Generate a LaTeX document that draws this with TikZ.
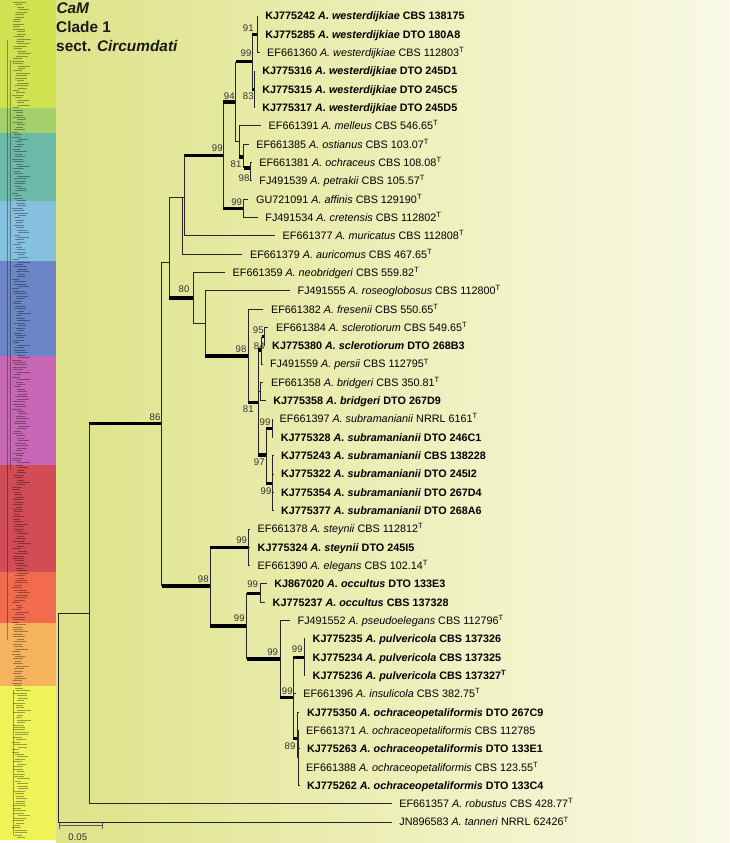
\documentclass[tikz,border=0pt]{standalone}
\usepackage{fontspec}
\setmainfont{Liberation Sans}
\usetikzlibrary{positioning}

\definecolor{bgA}{RGB}{206,212,96}
\definecolor{bgB}{RGB}{224,228,142}
\definecolor{bgC}{RGB}{241,243,200}
\definecolor{bgD}{RGB}{252,252,243}
\pgfdeclarehorizontalshading{bgfade}{100bp}{color(0bp)=(bgA); color(28bp)=(bgB); color(58bp)=(bgC); color(82bp)=(bgD); color(100bp)=(white)}

\definecolor{bandA}{RGB}{207,226,80}
\definecolor{bandB}{RGB}{163,208,107}
\definecolor{bandC}{RGB}{109,185,168}
\definecolor{bandD}{RGB}{133,193,223}
\definecolor{bandE}{RGB}{106,134,198}
\definecolor{bandF}{RGB}{200,103,181}
\definecolor{bandG}{RGB}{210,76,85}
\definecolor{bandH}{RGB}{242,107,79}
\definecolor{bandI}{RGB}{246,179,94}
\definecolor{bandJ}{RGB}{238,243,87}

\tikzset{
  branch/.style={line width=0.9pt, draw=black!85},
  strong/.style={line width=3.2pt, draw=black},
  taxon/.style={anchor=base west, inner sep=0pt, yshift=-3.9pt, font=\fontsize{10.8}{12}\selectfont},
  boot/.style={inner sep=0pt, text=black!80, font=\fontsize{9.6}{10}\selectfont},
  heading/.style={anchor=west, inner sep=0pt, text=black!90, font=\fontsize{15.4}{18}\selectfont\bfseries},
  minirow/.style={line width=0.35pt, draw=black, opacity=0.35},
  scalebar/.style={line width=1.3pt, draw=black!65},
}

% taxon texts
\newcommand{\TT}{\textsuperscript{T}}
\newcommand{\ntax}[3]{#1 \textit{A. #2} #3}
\newcommand{\btax}[3]{\textbf{#1 \textit{A. #2} #3}}
% branches: thin, or with a thick (supported) horizontal part
\newcommand{\branchto}[2]{\draw[branch] (#1) |- (#2);}
\newcommand{\strongto}[2]{\draw[branch] (#1) -- (#1 |- #2); \draw[strong] (#1 |- #2) -- (#2);}
% leaf: name, parent, end x, row, text
\newcommand{\leaf}[5]{%
  \coordinate (#1) at (#3,{16+18.32*(#4-1)});
  \draw[branch] (#2) |- (#1);
  \node[right=7.5pt of #1, taxon] (#1l) {#5};}

\begin{document}
\begin{tikzpicture}[x=1pt, y=-1pt]
  \useasboundingbox (0,0) rectangle (729,843);
  \shade[shading=bgfade] (56,0) rectangle (729,843);

  % thumbnail strip of the whole tree
  \fill[bandA] (0,0) rectangle (56,108);
  \fill[bandB] (0,108) rectangle (56,133);
  \fill[bandC] (0,133) rectangle (56,201);
  \fill[bandD] (0,201) rectangle (56,261);
  \fill[bandE] (0,261) rectangle (56,356);
  \fill[bandF] (0,356) rectangle (56,465);
  \fill[bandG] (0,465) rectangle (56,572);
  \fill[bandH] (0,572) rectangle (56,623);
  \fill[bandI] (0,623) rectangle (56,686);
  \fill[bandJ] (0,686) rectangle (56,840);
  \fill[white] (0,840) rectangle (56,843);
  \pgfmathsetseed{7}
  \foreach \r in {0,...,341} {
    \pgfmathsetmacro{\len}{6+8*rnd}
    \pgfmathsetmacro{\st}{12+6*rnd}
    \draw[minirow] (\st,{2+2.45*\r}) -- ++(\len,0);
  }
  \draw[minirow] (7,40) -- (7,640);
  \draw[minirow] (10,60) -- (10,470);
  \draw[minirow] (13,690) -- (13,835);

  % heading
  \node[heading] (h1) at (56.3,8.3) {\textit{CaM}};
  \node[heading] (h2) at (56,27.2) {Clade 1};
  \node[heading] (h3) at (56,45.7) {sect. \textit{Circumdati}};

  % internal nodes
  \coordinate (root) at (58.3,717.5);
  \coordinate (nIn) at (89.3,613);
  \coordinate (n86) at (161.7,423.3);
  \coordinate (nK) at (169,262);
  \coordinate (nA1) at (182,197);
  \coordinate (nA2) at (184,197);
  \coordinate (n99a) at (223.3,155.3);
  \coordinate (n94) at (235.7,102);
  \coordinate (n99w) at (252.3,61.8);
  \coordinate (n91) at (257.3,34.3);
  \coordinate (n83) at (254,89.3);
  \coordinate (nD) at (239,141.5);
  \coordinate (nE) at (243.7,157);
  \coordinate (n98p) at (250,168);
  \coordinate (n99af) at (243.3,208.4);
  \coordinate (n80) at (193.3,298);
  \coordinate (nF) at (205,323.5);
  \coordinate (n98g) at (248.3,356);
  \coordinate (n81) at (258.3,402.5);
  \coordinate (n84) at (261.7,350);
  \coordinate (n95) at (264.5,336.6);
  \coordinate (nJ) at (260,391.5);
  \coordinate (n97) at (266,455);
  \coordinate (n99s1) at (272,428.2);
  \coordinate (n99s2) at (272.7,483.2);
  \coordinate (n98b) at (210,586);
  \coordinate (n99st) at (248.3,547.3);
  \coordinate (n99o) at (246.7,626);
  \coordinate (n99oc) at (260,593.1);
  \coordinate (nL) at (280,659);
  \coordinate (nM) at (293.3,697.7);
  \coordinate (n99p) at (304,657.2);
  \coordinate (n89) at (297,738.3);
  \coordinate (nO) at (298.5,757.8);

  % backbone
  \branchto{root}{nIn}
  \strongto{nIn}{n86}
  \branchto{n86}{nK}
  \strongto{n86}{n98b}
  \branchto{nK}{nA1}
  \strongto{nK}{n80}
  \branchto{nA1}{nA2}
  \strongto{nA2}{n99a}
  \strongto{n99a}{n94}
  \strongto{n99a}{n99af}
  \strongto{n94}{n99w}
  \branchto{n94}{nD}
  \strongto{n99w}{n91}
  \strongto{n99w}{n83}
  \strongto{nD}{nE}
  \strongto{nE}{n98p}
  \branchto{n80}{nF}
  \strongto{nF}{n98g}
  \strongto{n98g}{n81}
  \strongto{n81}{n84}
  \branchto{n81}{nJ}
  \strongto{n81}{n97}
  \strongto{n84}{n95}
  \strongto{n97}{n99s1}
  \strongto{n97}{n99s2}
  \strongto{n98b}{n99st}
  \strongto{n98b}{n99o}
  \strongto{n99o}{n99oc}
  \strongto{n99o}{nL}
  \strongto{nL}{nM}
  \strongto{nM}{n99p}
  \strongto{nM}{n89}
  \branchto{n89}{nO}

  % leaves
  \leaf{t1}{n91}{257.7}{1}{\btax{KJ775242}{westerdijkiae}{CBS 138175}}
  \leaf{t2}{n91}{257.7}{2}{\btax{KJ775285}{westerdijkiae}{DTO 180A8}}
  \leaf{t3}{n91}{259.5}{3}{\ntax{EF661360}{westerdijkiae}{CBS 112803\TT}}
  \leaf{t4}{n83}{254.7}{4}{\btax{KJ775316}{westerdijkiae}{DTO 245D1}}
  \leaf{t5}{n83}{254.7}{5}{\btax{KJ775315}{westerdijkiae}{DTO 245C5}}
  \leaf{t6}{n83}{254.7}{6}{\btax{KJ775317}{westerdijkiae}{DTO 245D5}}
  \leaf{t7}{nD}{261}{7}{\ntax{EF661391}{melleus}{CBS 546.65\TT}}
  \leaf{t8}{nE}{248.7}{8}{\ntax{EF661385}{ostianus}{CBS 103.07\TT}}
  \leaf{t9}{n98p}{251.7}{9}{\ntax{EF661381}{ochraceus}{CBS 108.08\TT}}
  \leaf{t10}{n98p}{251.7}{10}{\ntax{FJ491539}{petrakii}{CBS 105.57\TT}}
  \leaf{t11}{n99af}{248.4}{11}{\ntax{GU721091}{affinis}{CBS 129190\TT}}
  \leaf{t12}{n99af}{257.7}{12}{\ntax{FJ491534}{cretensis}{CBS 112802\TT}}
  \leaf{t13}{nA2}{275}{13}{\ntax{EF661377}{muricatus}{CBS 112808\TT}}
  \leaf{t14}{nA1}{242.4}{14}{\ntax{EF661379}{auricomus}{CBS 467.65\TT}}
  \leaf{t15}{n80}{225}{15}{\ntax{EF661359}{neobridgeri}{CBS 559.82\TT}}
  \leaf{t16}{nF}{290}{16}{\ntax{FJ491555}{roseoglobosus}{CBS 112800\TT}}
  \leaf{t17}{n98g}{263.4}{17}{\ntax{EF661382}{fresenii}{CBS 550.65\TT}}
  \leaf{t18}{n95}{268.4}{18}{\ntax{EF661384}{sclerotiorum}{CBS 549.65\TT}}
  \leaf{t19}{n95}{264.5}{19}{\btax{KJ775380}{sclerotiorum}{DTO 268B3}}
  \leaf{t20}{n84}{262.4}{20}{\ntax{FJ491559}{persii}{CBS 112795\TT}}
  \leaf{t21}{nJ}{263.4}{21}{\ntax{EF661358}{bridgeri}{CBS 350.81\TT}}
  \leaf{t22}{nJ}{265.7}{22}{\btax{KJ775358}{bridgeri}{DTO 267D9}}
  \leaf{t23}{n99s1}{272}{23}{\ntax{EF661397}{subramanianii}{NRRL 6161\TT}}
  \leaf{t24}{n99s1}{273.2}{24}{\btax{KJ775328}{subramanianii}{DTO 246C1}}
  \leaf{t25}{n99s2}{273.4}{25}{\btax{KJ775243}{subramanianii}{CBS 138228}}
  \leaf{t26}{n99s2}{273.4}{26}{\btax{KJ775322}{subramanianii}{DTO 245I2}}
  \leaf{t27}{n99s2}{273.4}{27}{\btax{KJ775354}{subramanianii}{DTO 267D4}}
  \leaf{t28}{n99s2}{273.4}{28}{\btax{KJ775377}{subramanianii}{DTO 268A6}}
  \leaf{t29}{n99st}{250}{29}{\ntax{EF661378}{steynii}{CBS 112812\TT}}
  \leaf{t30}{n99st}{250}{30}{\btax{KJ775324}{steynii}{DTO 245I5}}
  \leaf{t31}{n99st}{250}{31}{\ntax{EF661390}{elegans}{CBS 102.14\TT}}
  \leaf{t32}{n99oc}{266.7}{32}{\btax{KJ867020}{occultus}{DTO 133E3}}
  \leaf{t33}{n99oc}{265}{33}{\btax{KJ775237}{occultus}{CBS 137328}}
  \leaf{t34}{nL}{290}{34}{\ntax{FJ491552}{pseudoelegans}{CBS 112796\TT}}
  \leaf{t35}{n99p}{305}{35}{\btax{KJ775235}{pulvericola}{CBS 137326}}
  \leaf{t36}{n99p}{305}{36}{\btax{KJ775234}{pulvericola}{CBS 137325}}
  \leaf{t37}{n99p}{305}{37}{\btax{KJ775236}{pulvericola}{CBS 137327\TT}}
  \leaf{t38}{nM}{295.7}{38}{\ntax{EF661396}{insulicola}{CBS 382.75\TT}}
  \leaf{t39}{n89}{299.4}{39}{\btax{KJ775350}{ochraceopetaliformis}{DTO 267C9}}
  \leaf{t40}{nO}{298.5}{40}{\ntax{EF661371}{ochraceopetaliformis}{CBS 112785}}
  \leaf{t41}{nO}{299.4}{41}{\btax{KJ775263}{ochraceopetaliformis}{DTO 133E1}}
  \leaf{t42}{nO}{298.5}{42}{\ntax{EF661388}{ochraceopetaliformis}{CBS 123.55\TT}}
  \leaf{t43}{nO}{299.4}{43}{\btax{KJ775262}{ochraceopetaliformis}{DTO 133C4}}
  \leaf{t44}{nIn}{391.7}{44}{\ntax{EF661357}{robustus}{CBS 428.77\TT}}
  \leaf{t45}{root}{391.7}{45}{\ntax{JN896583}{tanneri}{NRRL 62426\TT}}

  % bootstrap values
  \node[boot] (b91) at (248.3,28.3) {91};
  \node[boot] (b99w) at (246,53.3) {99};
  \node[boot] (b94) at (229.3,96) {94};
  \node[boot] (b83) at (248.3,96) {83};
  \node[boot] (b99a) at (217.3,148.3) {99};
  \node[boot] (b81e) at (236,164) {81};
  \node[boot] (b98p) at (244,178.3) {98};
  \node[boot] (b99af) at (236.7,201.7) {99};
  \node[boot] (b80) at (184,289.3) {80};
  \node[boot] (b98g) at (241,349) {98};
  \node[boot] (b95) at (258.3,330) {95};
  \node[boot] (b84) at (259.3,345.7) {84};
  \node[boot] (b81) at (248.3,409.3) {81};
  \node[boot] (b99s1) at (265,421.7) {99};
  \node[boot] (b97) at (259.3,461.7) {97};
  \node[boot] (b99s2) at (266,490.7) {99};
  \node[boot] (b86) at (155,416.7) {86};
  \node[boot] (b98b) at (203.3,579.3) {98};
  \node[boot] (b99st) at (241.7,540) {99};
  \node[boot] (b99o) at (239.3,618.3) {99};
  \node[boot] (b99oc) at (252.7,584.3) {99};
  \node[boot] (b99L) at (272.7,651.7) {99};
  \node[boot] (b99p) at (297.3,649) {99};
  \node[boot] (b99M) at (287.3,691) {99};
  \node[boot] (b89) at (290,746) {89};

  % scale bar
  \coordinate (sb0) at (59.3,825.7);
  \coordinate (sb1) at (102.3,825.7);
  \draw[scalebar] (sb0) -- (sb1);
  \draw[scalebar] (sb0) ++(0,-3) -- ++(0,6);
  \draw[scalebar] (sb1) ++(0,-3) -- ++(0,6);
  \node[boot] (sbl) at (77.8,836.7) {0.05};
\end{tikzpicture}
\end{document}
